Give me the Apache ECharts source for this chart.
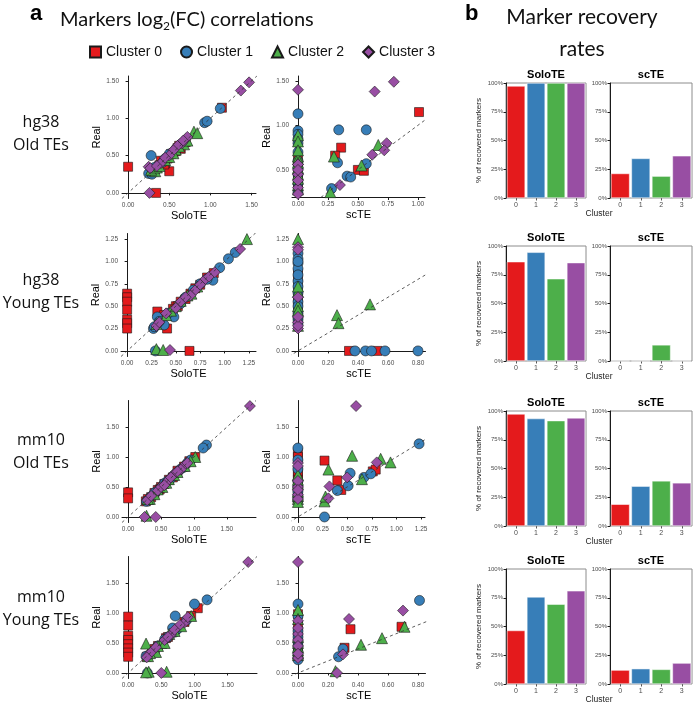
<!DOCTYPE html>
<html>
<head>
<meta charset="utf-8">
<script src="https://cdn.jsdelivr.net/npm/echarts@6/dist/echarts.min.js"></script>
<style>
  html, body { margin: 0; padding: 0; background: #fff; }
  #chart { width: 700px; height: 703px; }
</style>
</head>
<body>
<div id="chart"></div>
<script>
const clusters = ['Cluster 0', 'Cluster 1', 'Cluster 2', 'Cluster 3'];
const clusterColors = ['#E41A1C', '#377EB8', '#4DAF4A', '#984EA3'];
const clusterSymbols = ['rect', 'circle', 'triangle', 'diamond'];
const clusterSizes = [9, 10, 11, 11];
const barCategories = ['0', '1', '2', '3'];

// recovery rates (fraction of markers)
const hg38OldSoloRate = [0.974, 1.0, 1.0, 1.0];
const hg38OldScRate = [0.213, 0.344, 0.19, 0.367];
const hg38YoungSoloRate = [0.863, 0.945, 0.715, 0.855];
const hg38YoungScRate = [0, 0, 0.14, 0];
const mm10OldSoloRate = [0.974, 0.934, 0.916, 0.94];
const mm10OldScRate = [0.189, 0.346, 0.392, 0.375];
const mm10YoungSoloRate = [0.465, 0.757, 0.694, 0.81];
const mm10YoungScRate = [0.121, 0.133, 0.127, 0.182];

// log2FC points [method, real], one list per cluster
const hg38OldSolo = [
  [[0,0.35],[0.34,0.0],[0.5,0.29],[0.42,0.42],[0.45,0.4],[0.48,0.46],[0.52,0.52],[0.6,0.6],[0.64,0.59],[0.7,0.68],[0.38,0.37],[0.33,0.32],[1.14,1.14],[0.55,0.53],[0.3,0.3],[0.4,0.43],[0.58,0.56],[0.62,0.63],[0.44,0.38]],
  [[0.28,0.5],[0.27,0.27],[0.25,0.26],[0.3,0.28],[0.93,0.94],[0.96,0.96],[1.12,1.13],[0.55,0.55],[0.65,0.66],[0.36,0.36],[0.45,0.46],[0.32,0.34],[0.42,0.41],[0.5,0.52],[0.6,0.6],[0.29,0.25]],
  [[0.8,0.82],[0.84,0.8],[0.3,0.3],[0.33,0.29],[0.28,0.31],[0.68,0.65],[0.58,0.58],[0.45,0.44],[0.5,0.48],[0.62,0.62],[0.35,0.34],[0.55,0.53],[0.72,0.7],[0.38,0.36]],
  [[1.37,1.37],[1.47,1.48],[0.26,0.0],[0.25,0.35],[0.7,0.72],[0.65,0.66],[0.6,0.63],[0.55,0.57],[0.72,0.75],[0.5,0.5],[0.27,0.33],[0.4,0.4],[0.45,0.47],[0.35,0.36],[0.67,0.7]]
];
const hg38OldSc = [
  [[0,0.5],[0,0.45],[0,0.42],[0,0.38],[0,0.3],[0,0.55],[1.01,1.15],[0.36,0.75],[0.31,0.66],[0.5,0.5],[0.55,0.49],[0,0.27],[0,0.62],[0,0.35],[0,0.47]],
  [[0,1.13],[0,0.94],[0,0.9],[0,0.8],[0,0.25],[0,0.35],[0,0.6],[0,0.7],[0.34,0.95],[0.57,0.95],[0.33,0.58],[0.57,0.57],[0.41,0.43],[0.44,0.42],[0.28,0.29],[0,0.45],[0,0.52],[0,0.85]],
  [[0,0.89],[0,0.82],[0,0.65],[0,0.62],[0,0.33],[0,0.52],[0,0.4],[0.30,0.65],[0.67,0.78],[0.53,0.55],[0.27,0.25],[0,0.28],[0,0.72],[0,0.58],[0,0.45]],
  [[0,1.40],[0.64,1.38],[0.8,1.49],[0.74,0.8],[0.72,0.72],[0.62,0.67],[0.35,0.33],[0,0.3],[0,0.45],[0,0.56],[0,0.23],[0,0.5],[0,0.38]]
];
const hg38YoungSolo = [
  [[0,0.64],[0,0.6],[0,0.55],[0,0.46],[0,0.35],[0,0.31],[0,0.25],[0.64,0.0],[0.31,0.44],[0.41,0.25],[0.89,0.87],[0.5,0.5],[0.55,0.55],[0.47,0.47],[0.42,0.4],[0.7,0.7],[0.82,0.82],[0.35,0.35],[0.6,0.58],[0.65,0.64],[0.75,0.74],[0.38,0.4],[0.52,0.5]],
  [[1.11,1.1],[1.04,1.03],[0.95,0.93],[0.88,0.79],[0.31,0.38],[0.38,0.29],[0.29,0.0],[0.48,0.38],[0.27,0.25],[0.75,0.75],[0.68,0.68],[0.28,0.27],[0.6,0.6],[0.42,0.42],[0.55,0.53],[0.82,0.8],[0.33,0.33]],
  [[1.23,1.25],[0.3,0.02],[0.37,0.01],[0.62,0.62],[0.55,0.56],[0.3,0.3],[0.66,0.64],[0.45,0.45],[0.5,0.5],[0.72,0.72],[0.4,0.4]],
  [[1.16,1.14],[0.44,0.01],[0.8,0.8],[0.84,0.83],[0.7,0.68],[0.65,0.62],[0.3,0.28],[0.33,0.32],[0.75,0.74],[0.4,0.42],[0.55,0.55],[0.6,0.6],[0.5,0.48],[0.9,0.88]]
];
const hg38YoungSc = [
  [[0,0.87],[0,0.84],[0,0.62],[0,0.58],[0,0.45],[0,0.4],[0,0.68],[0.34,0],[0.53,0],[0,0.52],[0,0.75],[0,0.33]],
  [[0,1.09],[0,1.03],[0,0.98],[0,0.92],[0,0.78],[0,0.72],[0,0.42],[0,0.35],[0,0.3],[0,0.55],[0.38,0],[0.45,0],[0.49,0],[0.58,0],[0.80,0],[0,0.85],[0,0.65],[0,0.5],[0,0.38],[0,1.0]],
  [[0,1.25],[0,0.66],[0,0.5],[0,0.28],[0.26,0.4],[0.27,0.31],[0.48,0.52],[0,0.72],[0,0.45]],
  [[0,1.16],[0,1.13],[0,0.25],[0,0.32],[0,0.6],[0,0.28],[0,0.38]]
];
const mm10OldSolo = [
  [[0,0.41],[0,0.31],[0.93,0.93],[1.02,1.0],[0.62,0.62],[0.55,0.55],[0.4,0.4],[0.3,0.3],[0.35,0.33],[0.75,0.77],[0.48,0.46],[0.27,0.26],[0.5,0.5],[0.68,0.66],[0.85,0.84],[0.45,0.45]],
  [[1.19,1.2],[1.14,1.15],[0.44,0.43],[0.75,0.75],[0.8,0.8],[0.65,0.64],[0.55,0.56],[0.35,0.34],[0.3,0.28],[0.9,0.9],[0.5,0.49],[0.4,0.4],[0.6,0.6],[0.7,0.7],[0.95,0.95],[0.85,0.83],[0.28,0.26]],
  [[1.02,1.0],[0.52,0.5],[0.58,0.57],[0.28,0.02],[0.4,0.38],[0.7,0.7],[0.86,0.85],[0.33,0.3],[0.45,0.46],[0.62,0.63],[0.75,0.75],[0.95,0.93],[0.3,0.3]],
  [[1.85,1.85],[0.29,0.28],[0.25,0],[0.42,0],[0.85,0.86],[0.8,0.79],[0.7,0.72],[0.6,0.6],[0.45,0.44],[0.35,0.35],[0.5,0.5],[0.55,0.53],[0.75,0.76],[0.9,0.9],[0.65,0.66]]
];
const mm10OldSc = [
  [[0,1.07],[0,1.0],[0,0.75],[0,0.72],[0,0.45],[0,0.4],[0,0.3],[0.27,0.94],[0.40,0.61],[0.44,0.45],[0.76,0.76],[0.79,0.79],[0,0.55],[0,0.62]],
  [[0,1.15],[0,0.95],[0,0.6],[0,0.27],[0,0.35],[0.27,0.0],[0.40,0.44],[0.53,0.73],[0.51,0.52],[0.67,0.66],[0.74,0.72],[1.23,1.22],[0,0.8],[0,0.5],[0,0.42],[0,0.3]],
  [[0,0.62],[0,0.55],[0,0.42],[0,0.3],[0.31,0.79],[0.55,1.02],[0.65,0.63],[0.84,0.97],[0.94,0.91],[0.27,0.26],[0.28,0.34],[0,0.7],[0,0.35],[0,0.25]],
  [[0,0.9],[0,0.85],[0,0.5],[0,0.37],[0.59,1.85],[0.32,0.51],[0.31,0.31],[0.5,0.66],[0.8,0.91],[0,0.6],[0,0.3],[0,0.45]]
];
const mm10YoungSolo = [
  [[0,0.94],[0,0.79],[0,0.62],[0,0.55],[0,0.48],[0,0.41],[0,0.34],[0,0.27],[1.05,1.08],[0.71,0.73],[0.57,0.58],[0.28,0.27],[0.45,0.45],[0.85,0.85],[0.36,0.35],[0.6,0.6],[0.4,0.4],[0.95,0.95]],
  [[1.19,1.22],[1.0,1.15],[0.71,0.95],[0.7,0.68],[0.67,0.75],[0.45,0.45],[0.29,0.0],[0.32,0.3],[0.88,0.88],[0.6,0.6],[0.55,0.56],[0.4,0.38],[0.75,0.74],[0.27,0.28]],
  [[0.95,0.95],[0.27,0.49],[0.31,0.02],[0.27,0.01],[0.58,0.02],[0.5,0.5],[0.38,0.4],[0.42,0.35],[0.62,0.65],[0.8,0.78],[0.3,0.28],[0.45,0.45],[0.7,0.7],[0.33,0.33],[0.55,0.5]],
  [[1.81,1.85],[0.5,0.0],[0.3,0.3],[0.85,0.84],[0.78,0.8],[0.55,0.55],[0.65,0.64],[0.9,0.93],[0.35,0.35],[0.42,0.43],[0.6,0.6],[0.7,0.72],[0.28,0.26]]
];
const mm10YoungSc = [
  [[0,0.98],[0,0.8],[0,0.5],[0,0.27],[0,0.6],[0.69,0.77],[0.35,0.73],[0.31,0.42],[0,0.4],[0,0.7],[0,0.35]],
  [[0,1.15],[0,0.95],[0,0.52],[0,0.22],[0,0.7],[0.81,1.21],[0.30,0.4],[0.27,0.27],[0,0.6],[0,0.35],[0,0.45],[0,0.28]],
  [[0,1.05],[0,0.43],[0,0.33],[0,0.38],[0,0.9],[0.71,0.77],[0.56,0.58],[0.42,0.47],[0.25,0.03],[0,0.5],[0,0.6],[0,0.3]],
  [[0,1.85],[0,0.87],[0,0.65],[0,0.25],[0,0.55],[0.70,1.04],[0.34,0.9],[0.30,0.31],[0.26,0.0],[0,0.75],[0,0.45],[0,0.32]]
];

const ticksHalf = [0, 0.5, 1, 1.5];
const ticksQuarter = [0, 0.25, 0.5, 0.75, 1];
const ticksQuarter125 = [0, 0.25, 0.5, 0.75, 1, 1.25];
const ticksFifth = [0, 0.2, 0.4, 0.6, 0.8];

const scatterPanels = [
  { data: hg38OldSolo, name: 'SoloTE', grid: { left: 122, top: 76, width: 134, height: 122.5 }, x: [-0.074, 1.554], xt: ticksHalf, y: [-0.075, 1.565], yt: ticksHalf },
  { data: hg38OldSc, name: 'scTE', grid: { left: 292, top: 76, width: 133, height: 121.5 }, x: [-0.05, 1.06], xt: ticksQuarter, y: [0.19, 1.555], yt: [0.5, 1, 1.5] },
  { data: hg38YoungSolo, name: 'SoloTE', grid: { left: 121, top: 233.5, width: 135, height: 123 }, x: [-0.063, 1.323], xt: ticksQuarter125, y: [-0.0625, 1.3125], yt: ticksQuarter125 },
  { data: hg38YoungSc, name: 'scTE', grid: { left: 292, top: 233.5, width: 133.5, height: 123 }, x: [-0.04, 0.85], xt: ticksFifth, y: [-0.0625, 1.3125], yt: ticksQuarter125 },
  { data: mm10OldSolo, name: 'SoloTE', grid: { left: 122, top: 400.5, width: 134, height: 122 }, x: [-0.0925, 1.9425], xt: ticksHalf, y: [-0.0925, 1.9425], yt: ticksHalf },
  { data: mm10OldSc, name: 'scTE', grid: { left: 292, top: 400.5, width: 133, height: 122 }, x: [-0.06, 1.29], xt: ticksQuarter125, y: [-0.0925, 1.9425], yt: ticksHalf },
  { data: mm10YoungSolo, name: 'SoloTE', grid: { left: 122, top: 556.5, width: 135, height: 122 }, x: [-0.0925, 1.9425], xt: ticksHalf, y: [-0.0925, 1.9425], yt: ticksHalf },
  { data: mm10YoungSc, name: 'scTE', grid: { left: 292, top: 556.5, width: 133.5, height: 122 }, x: [-0.04, 0.85], xt: ticksFifth, y: [-0.0925, 1.9425], yt: ticksHalf }
];

const barRowTops = [83, 246, 411, 569];
const barRates = [
  [hg38OldSoloRate, hg38OldScRate],
  [hg38YoungSoloRate, hg38YoungScRate],
  [mm10OldSoloRate, mm10OldScRate],
  [mm10YoungSoloRate, mm10YoungScRate]
];

const grids = [], xAxes = [], yAxes = [], series = [], graphics = [];
const axisColor = '#1a1a1a';
const tickFont = { fontSize: 6.5, color: '#4d4d4d', fontFamily: 'Liberation Sans' };

// centred free text
function label(x, y, text, font, extra) {
  return {
    type: 'text', x: x, y: y, silent: true,
    style: Object.assign({ text: text, font: font, fill: '#111', textAlign: 'center', align: 'center', textVerticalAlign: 'middle', verticalAlign: 'middle' }, extra || {})
  };
}

scatterPanels.forEach((p) => {
  const gi = grids.length;
  grids.push(Object.assign({ containLabel: false }, p.grid));
  xAxes.push({
    type: 'value', gridIndex: gi, min: p.x[0], max: p.x[1],
    name: p.name, nameLocation: 'middle', nameGap: 12,
    nameTextStyle: { fontSize: 11, color: '#000', fontFamily: 'Liberation Sans' },
    axisLine: { lineStyle: { color: axisColor, width: 1 } },
    axisTick: { show: true, length: 2.5, lineStyle: { color: axisColor }, customValues: p.xt },
    axisLabel: Object.assign({ margin: 3, customValues: p.xt, formatter: v => v.toFixed(2) }, tickFont),
    splitLine: { show: false }
  });
  yAxes.push({
    type: 'value', gridIndex: gi, min: p.y[0], max: p.y[1],
    name: 'Real', nameLocation: 'middle', nameGap: 19, nameRotate: 90,
    nameTextStyle: { fontSize: 11, color: '#000', fontFamily: 'Liberation Sans' },
    axisLine: { lineStyle: { color: axisColor, width: 1 } },
    axisTick: { show: true, length: 2.5, lineStyle: { color: axisColor }, customValues: p.yt },
    axisLabel: Object.assign({ margin: 3, customValues: p.yt, formatter: v => v.toFixed(2) }, tickFont),
    splitLine: { show: false }
  });
  p.data.forEach((pts, c) => {
    series.push({
      name: clusters[c], type: 'scatter', xAxisIndex: gi, yAxisIndex: gi,
      symbol: clusterSymbols[c], symbolSize: clusterSizes[c],
      itemStyle: { color: clusterColors[c], borderColor: '#1a1a1a', borderWidth: 0.6, opacity: 1 },
      data: pts, z: 2
    });
  });
  const lo = Math.min(p.x[0], p.y[0]), hi = Math.max(p.x[1], p.y[1]);
  series.push({
    type: 'line', xAxisIndex: gi, yAxisIndex: gi, silent: true, symbol: 'none',
    data: [[lo, lo], [hi, hi]], clip: true, z: 3,
    lineStyle: { color: '#333', width: 0.8, type: [3, 3] }
  });
});

barRowTops.forEach((top, r) => {
  [[506, 80, 'SoloTE'], [610, 82, 'scTE']].forEach(([left, width, title], k) => {
    const gi = grids.length;
    grids.push({ left: left, top: top, width: width, height: 115, show: true, borderColor: '#8c8c8c', borderWidth: 1, backgroundColor: '#fff' });
    xAxes.push({
      type: 'category', gridIndex: gi, data: barCategories,
      axisLine: { show: false },
      axisTick: { show: true, length: 2.5, alignWithLabel: true, lineStyle: { color: '#555' } },
      axisLabel: Object.assign({ margin: 4 }, tickFont, { fontSize: 7 })
    });
    yAxes.push({
      type: 'value', gridIndex: gi, min: 0, max: 1, interval: 0.25,
      name: k === 0 ? '% of recovered markers' : '', nameLocation: 'middle', nameGap: 23, nameRotate: 90,
      nameTextStyle: { fontSize: 8, color: '#222', fontFamily: 'Liberation Sans' },
      axisLine: { show: true, lineStyle: { color: axisColor, width: 1 } },
      axisTick: { show: true, length: 2.5, lineStyle: { color: axisColor } },
      axisLabel: Object.assign({ margin: 3, formatter: v => Math.round(v * 100) + '%' }, tickFont, { fontSize: 6 }),
      splitLine: { show: false }
    });
    series.push({
      type: 'bar', xAxisIndex: gi, yAxisIndex: gi, barCategoryGap: '9%', silent: true,
      data: barRates[r][k].map((v, i) => ({ value: v, itemStyle: { color: clusterColors[i] } })),
      itemStyle: { borderColor: '#fff', borderWidth: 0.5 }
    });
    graphics.push(label(left + width / 2, top - 8, title, 'bold 11px "Liberation Sans"', { fill: '#000' }));
  });
  graphics.push(label(599, top + 131, 'Cluster', '8.5px "Liberation Sans"', { fill: '#222' }));
});

const rowLabels = [['hg38', 'Old TEs', 122], ['hg38', 'Young TEs', 280], ['mm10', 'Old TEs', 440], ['mm10', 'Young TEs', 597]];
rowLabels.forEach(([a, b, y]) => {
  graphics.push(label(41, y, a, '16px "Open Sans"'));
  graphics.push(label(41, y + 23.5, b, '16px "Open Sans"'));
});

graphics.push(
  { type: 'text', left: 30, top: 3, style: { text: 'a', font: 'bold 22px "Liberation Sans"', fill: '#000' } },
  { type: 'text', left: 465, top: 3, style: { text: 'b', font: 'bold 22px "Liberation Sans"', fill: '#000' } },
  label(582, 17, 'Marker recovery', '21px "Lato"'),
  label(582, 49, 'rates', '21px "Lato"')
);

const chart = echarts.init(document.getElementById('chart'), null, { renderer: 'canvas' });
chart.setOption({
  animation: false,
  backgroundColor: '#fff',
  title: {
    text: 'Markers log{s|2}(FC) correlations', left: 55, top: 3,
    textStyle: { fontSize: 20, fontWeight: 'normal', fontFamily: 'Lato', color: '#111', rich: { s: { fontSize: 12, fontFamily: 'Lato', color: '#111', padding: [12, 0, 0, 0] } } }
  },
  legend: {
    top: 40, left: 84, itemGap: 18, itemWidth: 11, itemHeight: 11,
    textStyle: { fontSize: 14, fontFamily: 'Liberation Sans', color: '#111' },
    data: clusters.map((n, i) => ({ name: n, icon: clusterSymbols[i] }))
  },
  grid: grids,
  xAxis: xAxes,
  yAxis: yAxes,
  series: series,
  graphic: graphics
});
</script>
</body>
</html>
